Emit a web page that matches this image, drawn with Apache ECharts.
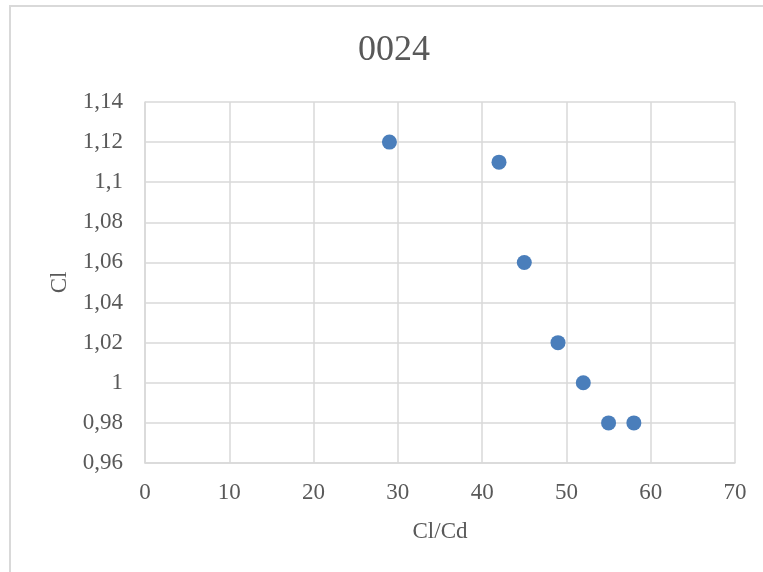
<!DOCTYPE html>
<html>
<head>
<meta charset="utf-8">
<script src="https://cdn.jsdelivr.net/npm/echarts@6/dist/echarts.min.js"></script>
<style>
  html, body { margin: 0; padding: 0; background: #fff; }
  #chart { width: 763px; height: 572px; }
</style>
</head>
<body>
<div id="chart"></div>
<script>
// data
var clcd = [29, 42, 45, 49, 52, 55, 58];
var cl = [1.12, 1.11, 1.06, 1.02, 1.00, 0.98, 0.98];
var chartTitle = '0024';
var xName = 'Cl/Cd';
var yName = 'Cl';

var points = [];
for (var i = 0; i < clcd.length; i++) {
    points.push([clcd[i], cl[i]]);
}

var txt = '#595959';
var gridCol = '#d9d9d9';
var font = '"Liberation Serif", "Times New Roman", serif';

var chart = echarts.init(document.getElementById('chart'));

var option = {
    backgroundColor: '#fff',
    animation: false,
    textStyle: { fontFamily: font },
    graphic: [{
        type: 'rect',
        shape: { x: 10, y: 6, width: 800, height: 700 },
        style: { fill: 'none', stroke: gridCol, lineWidth: 2 },
        silent: true
    }],
    title: {
        text: chartTitle,
        left: 353,
        top: 28,
        textStyle: { fontFamily: font, fontSize: 36, fontWeight: 'normal', color: txt }
    },
    grid: { left: 145, top: 102, right: 28, bottom: 109 },
    xAxis: {
        type: 'value',
        min: 0, max: 70, interval: 10,
        name: xName,
        nameLocation: 'middle',
        nameGap: 57,
        nameTextStyle: { fontFamily: font, fontSize: 23, color: txt },
        axisLine: { show: true, lineStyle: { color: gridCol, width: 1.5 } },
        axisTick: { show: false },
        axisLabel: { fontFamily: font, fontSize: 23, color: txt, margin: 18 },
        splitLine: { show: true, lineStyle: { color: gridCol, width: 1.5 } }
    },
    yAxis: {
        type: 'value',
        min: 0.96, max: 1.14, interval: 0.02,
        name: yName,
        nameLocation: 'middle',
        nameGap: 72,
        nameTextStyle: { fontFamily: font, fontSize: 23, color: txt },
        axisLine: { show: true, lineStyle: { color: gridCol, width: 1.5 } },
        axisTick: { show: false },
        axisLabel: {
            fontFamily: font, fontSize: 23, color: txt, margin: 22,
            formatter: function (v) {
                return String(parseFloat(v.toFixed(2))).replace('.', ',');
            }
        },
        splitLine: { show: true, lineStyle: { color: gridCol, width: 1.5 } }
    },
    series: [{
        type: 'scatter',
        data: points,
        symbolSize: 15,
        itemStyle: { color: '#4a7ebb', opacity: 1 }
    }]
};

chart.setOption(option);
</script>
</body>
</html>
